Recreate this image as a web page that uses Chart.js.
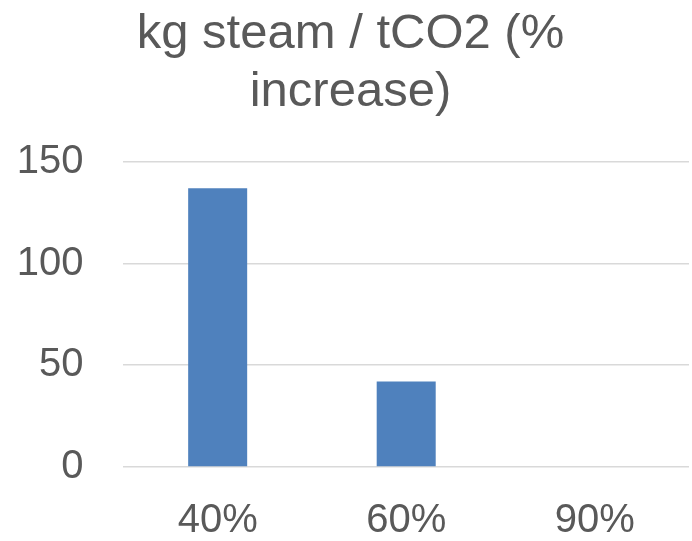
<!DOCTYPE html>
<html>
<head>
<meta charset="utf-8">
<script src="https://cdn.jsdelivr.net/npm/chart.js@4"></script>
<style>
  html, body { margin: 0; padding: 0; background: #ffffff; }
  #wrap { width: 692px; height: 541px; }
</style>
</head>
<body>
<div id="wrap"><canvas id="chart" width="692" height="541"></canvas></div>
<script>
// Capture rate categories and steam demand increase (%)
const categories = ['40%', '60%', '90%'];
const steamIncrease = [137, 42, 0];
const yTicks = [0, 50, 100, 150];
const titleLines = ['kg steam / tCO2 (%', 'increase)'];

const textColor = '#595959';
const fontFamily = '"Liberation Sans", Arial, sans-serif';

new Chart(document.getElementById('chart'), {
  type: 'bar',
  data: {
    labels: categories,
    datasets: [{
      data: steamIncrease,
      backgroundColor: '#4F81BD',
      borderWidth: 0,
      barPercentage: 0.313,
      categoryPercentage: 1.0
    }]
  },
  options: {
    responsive: false,
    animation: false,
    layout: { padding: { left: 12, right: 3, top: 0, bottom: 0 } },
    plugins: {
      legend: { display: false },
      tooltip: { enabled: false },
      title: {
        display: true,
        text: titleLines,
        color: textColor,
        font: { family: fontFamily, size: 49, weight: 'normal', lineHeight: 1.176 },
        padding: { top: 6, bottom: 40.5 }
      }
    },
    scales: {
      x: {
        grid: { display: false, drawTicks: false },
        border: { display: false },
        ticks: {
          color: textColor,
          font: { family: fontFamily, size: 40 },
          padding: 30,
          maxRotation: 0
        },
        afterFit: (s) => { s.height = 74; }
      },
      y: {
        min: 0,
        max: 150,
        afterBuildTicks: (s) => { s.ticks = yTicks.map(v => ({ value: v })); },
        grid: { color: '#d9d9d9', lineWidth: 1.5, drawTicks: false },
        border: { display: false },
        ticks: {
          color: textColor,
          font: { family: fontFamily, size: 40 },
          padding: 40
        },
        afterFit: (s) => { s.width = 111.4; }
      }
    }
  }
});
</script>
</body>
</html>
